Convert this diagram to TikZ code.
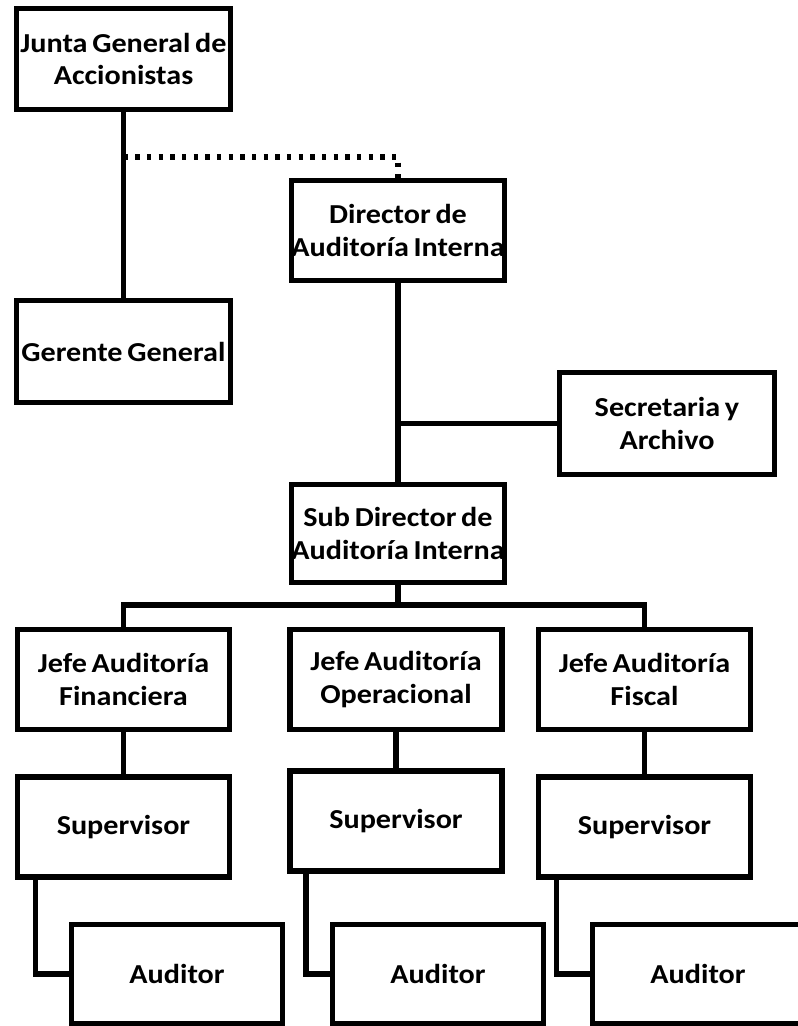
\documentclass[tikz,border=0pt]{standalone}
\usepackage{fontspec}
\setmainfont{Carlito}[FakeStretch=1.1, WordSpace=0.7]
\usetikzlibrary{positioning}

\begin{document}
\begin{tikzpicture}[
    font=\bfseries\fontsize{19.5}{23}\selectfont,
    % Styles
    orgbox/.style={rectangle, draw=black, line width=4pt, inner sep=0pt, align=center, minimum width=5.3cm, minimum height=2.5cm},
    link/.style={draw=black, line width=4pt},
    dotlink/.style={draw=black, line width=3.6pt, dash pattern=on 3.2pt off 5.1pt}
]
    \useasboundingbox (0,0) rectangle (19.95,-25.65);
    \clip (0,0) rectangle (19.95,-25.65);

    % 1. TOP OF THE CHART
    \node[orgbox, minimum width=5.35cm, minimum height=2.525cm] (junta) at (3.0875,-1.475) {Junta General de\\Accionistas};
    \node[orgbox, minimum width=5.35cm, minimum height=2.55cm] (gerente) at (3.0875,-8.79) {Gerente General};
    \node[orgbox, minimum width=5.275cm] (director) at (9.95,-5.7625) {Director de\\Auditoría Interna};
    \node[orgbox, minimum width=5.375cm, minimum height=2.55cm] (secretaria) at (16.675,-10.5875) {Secretaria y\\Archivo};
    \node[orgbox, minimum width=5.275cm, minimum height=2.45cm] (subdir) at (9.95,-13.3375) {Sub Director de\\Auditoría Interna};

    \coordinate (staff) at (3.0875,-3.925);
    \draw[link] (junta) -- (gerente);
    \draw[dotlink] (staff) -| (director.north);
    \draw[link] (director) -- (subdir);
    \draw[link] (secretaria.west) -- (secretaria.west -| director.south);

    % 2. THE THREE AREAS
    \node[orgbox] (jefeF) at (3.0875,-16.9875) {Jefe Auditoría\\Financiera};
    \node[orgbox] (jefeO) at (9.9,-16.9875) {Jefe Auditoría\\Operacional};
    \node[orgbox] (jefeS) at (16.1125,-16.9875) {Jefe Auditoría\\Fiscal};

    \coordinate (bar) at (9.95,-15.125);
    \draw[link] (subdir) -- (bar);
    \draw[link] (jefeF.north) |- (bar) -| (jefeS.north);
    \draw[link] (bar) -- (bar -| jefeO.north);

    \node[orgbox] (supF) at (3.0875,-20.675) {Supervisor};
    \node[orgbox] (supO) at (9.9,-20.525) {Supervisor};
    \node[orgbox] (supS) at (16.1125,-20.675) {Supervisor};

    \draw[link] (jefeF) -- (supF);
    \draw[link] (jefeO) -- (supO);
    \draw[link] (jefeS) -- (supS);

    % 3. AUDITORS
    \node[orgbox, minimum width=5.275cm, minimum height=2.475cm] (audF) at (4.425,-24.35) {Auditor};
    \node[orgbox, minimum width=5.275cm, minimum height=2.475cm] (audO) at (10.95,-24.35) {Auditor};
    \node[orgbox, minimum width=5.275cm, minimum height=2.475cm] (audS) at (17.45,-24.35) {Auditor};

    \draw[link] ([xshift=0.52cm]supF.south west) |- (audF.west);
    \draw[link] ([xshift=0.47cm]supO.south west) |- (audO.west);
    \draw[link] ([xshift=0.52cm]supS.south west) |- (audS.west);

\end{tikzpicture}
\end{document}
